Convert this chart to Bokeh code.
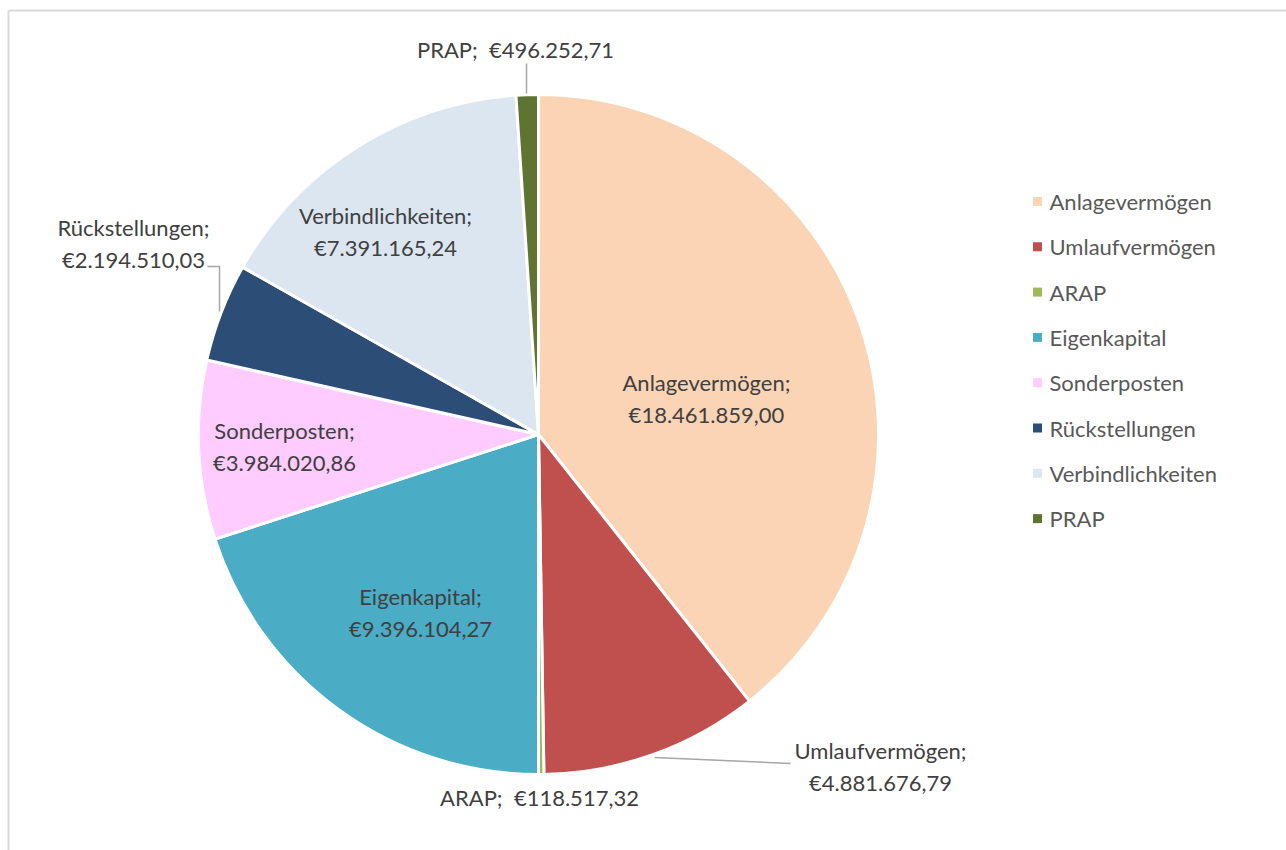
import numpy as np
from bokeh.plotting import figure
from bokeh.models import Range1d, ColumnDataSource
from bokeh.embed import file_html
from bokeh.resources import INLINE
from bokeh.core.properties import value

# ---------------- data ----------------
categories = ["Anlagevermögen", "Umlaufvermögen", "ARAP", "Eigenkapital",
              "Sonderposten", "Rückstellungen", "Verbindlichkeiten", "PRAP"]
amounts = [18461859.00, 4881676.79, 118517.32, 9396104.27,
           3984020.86, 2194510.03, 7391165.24, 496252.71]
colors = ["#FAD4B4", "#C0504D", "#9BBB59", "#4BACC6",
          "#FFCCFF", "#2C4D75", "#DCE6F1", "#5E7430"]


def euro(v):
    s = f"{v:,.2f}".replace(",", "X").replace(".", ",").replace("X", ".")
    return "€" + s


# ---------------- layout ----------------
W, H = 1286, 850
CX, CY, R = 538, 434, 340          # pie centre / radius in pixels (from top)
FONT = "Lato"
LABEL_SIZE = "22px"
LEGEND_SIZE = "22px"
LABEL_COLOR = "#404040"

# label centres (pixel coords from top-left) and whether to break line
label_pos = {
    "Anlagevermögen": (706, 398, True),
    "Umlaufvermögen": (880, 766, True),
    "ARAP": (539, 797, False),
    "Eigenkapital": (420, 612, True),
    "Sonderposten": (284, 446, True),
    "Rückstellungen": (133, 243, True),
    "Verbindlichkeiten": (385, 231, True),
    "PRAP": (515, 49, False),
}
leaders = [
    [(654, 757), (790, 763)],
    [(207, 266), (219, 266), (219, 311)],
    [(526, 63), (526, 93)],
]

p = figure(width=W, height=H, output_backend="svg", toolbar_location=None,
           x_range=Range1d(0, W), y_range=Range1d(0, H),
           x_axis_location=None, y_axis_location=None,
           min_border=0, min_border_left=0, min_border_right=0,
           min_border_top=0, min_border_bottom=0)
p.outline_line_color = None
p.grid.visible = False
p.background_fill_color = "white"
p.border_fill_color = "white"


def fy(y):
    return H - y


# border of chart area (top and left visible)
p.line([8, 8], [fy(10), fy(H + 5)], line_color="#D9D9D9", line_width=2)
p.line([8, W + 5], [fy(10), fy(10)], line_color="#D9D9D9", line_width=2)

# wedges
vals = np.array(amounts)
frac = vals / vals.sum()
cum = np.concatenate([[0], np.cumsum(frac)])
start = np.pi / 2 - 2 * np.pi * cum[:-1]
end = np.pi / 2 - 2 * np.pi * cum[1:]
src = ColumnDataSource(dict(cat=categories, start=start, end=end, color=colors))
p.wedge(x=CX, y=fy(CY), radius=R, start_angle="start", end_angle="end",
        direction="clock", fill_color="color", line_color="white",
        line_width=3, source=src)

# leader lines
for seg in leaders:
    p.line([a for a, b in seg], [fy(b) for a, b in seg],
           line_color="#A6A6A6", line_width=1.5)

# data labels
lx, ly, lt = [], [], []
for c, v in zip(categories, amounts):
    x, y, br = label_pos[c]
    lx.append(x)
    ly.append(fy(y))
    lt.append(f"{c};\n{euro(v)}" if br else f"{c};\u00a0 {euro(v)}")
p.text(x=lx, y=ly, text=lt, text_align="center", text_baseline="middle",
       text_font=value(FONT), text_font_size=LABEL_SIZE, text_color=LABEL_COLOR,
       text_line_height=1.2)

# legend (drawn manually)
LEG_X, LEG_Y0, LEG_DY = 1037, 201, 45.3
leg_y = [fy(LEG_Y0 + i * LEG_DY) for i in range(len(categories))]
p.scatter(x=[LEG_X] * len(categories), y=leg_y, marker="square", size=9,
          fill_color=colors, line_color=None)
p.text(x=[LEG_X + 12] * len(categories), y=leg_y, text=categories,
       text_align="left", text_baseline="middle", text_font=value(FONT),
       text_font_size=LEGEND_SIZE, text_color="#595959")

open("out.html", "w").write(file_html(p, INLINE))
